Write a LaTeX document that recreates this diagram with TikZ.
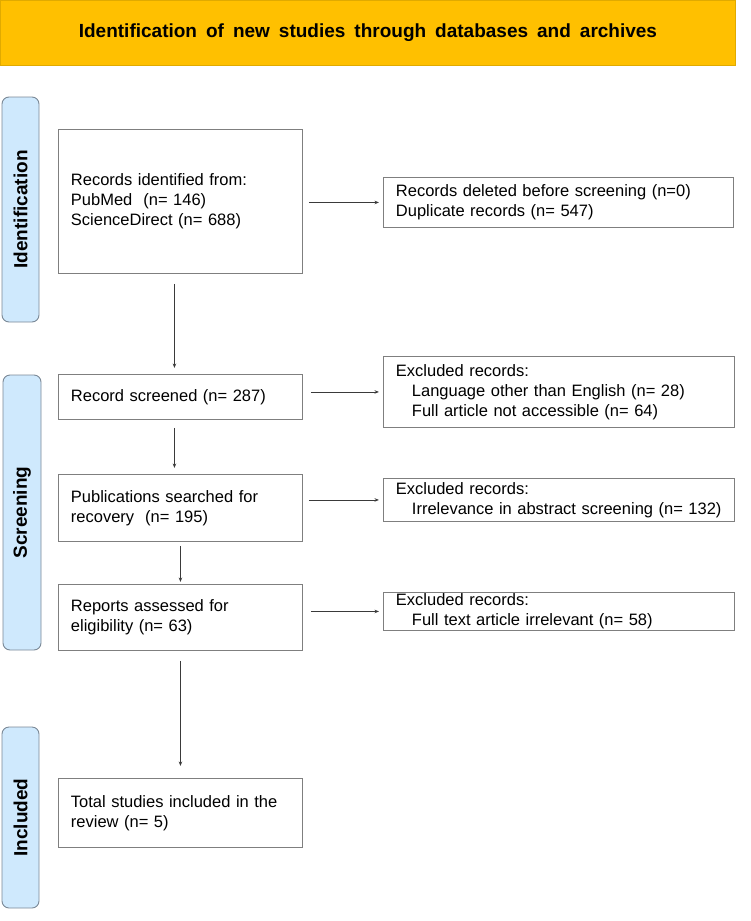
\documentclass[tikz,border=0pt]{standalone}
\usepackage{fontspec}
\setmainfont{Liberation Sans}
\usetikzlibrary{arrows.meta}
\definecolor{hdrfill}{HTML}{FFC000}
\definecolor{hdrline}{HTML}{E0AA00}
\definecolor{tabfill}{HTML}{CFE9FD}
\definecolor{tabline}{HTML}{7A8896}
\definecolor{boxline}{HTML}{7F7F7F}
\definecolor{arrline}{HTML}{3A3A3A}
\begin{document}
\begin{tikzpicture}[x=1pt,y=-1pt,
  box/.style={draw=boxline, line width=0.9pt, anchor=north west, inner xsep=12.5pt, inner ysep=0pt,
    align=left, font=\fontsize{16.5}{20}\selectfont},
  tabbox/.style={draw=tabline, fill=tabfill, line width=0.9pt, rounded corners=7pt},
  tablabel/.style={rotate=90, font=\fontsize{19}{22}\selectfont\bfseries},
  flow/.style={draw=arrline, line width=0.8pt, -{Stealth[length=4.5pt,width=3.5pt]}}
]
\useasboundingbox (0,0) rectangle (750,921);

% header
\node[draw=hdrline, fill=hdrfill, line width=0.9pt, anchor=north west, minimum width=735pt, minimum height=65pt, inner sep=0pt,
  font=\fontsize{19}{22}\selectfont\bfseries] (hdr) at (0,0) {\raisebox{-2pt}{\spaceskip=9pt Identification of new studies through databases and archives}};

% side tabs
\draw[tabbox] (2,97) rectangle (39,322);
\node[tablabel] (tid) at (20.5,209.5) {Identification};
\draw[tabbox] (3,375) rectangle (41,650);
\node[tablabel] (tsc) at (22,512.5) {Screening};
\draw[tabbox] (2,727) rectangle (39,908);
\node[tablabel] (tin) at (20.5,817.5) {Included};

% left boxes
\node[box, minimum width=244pt, minimum height=144pt, text width=219pt] (b1) at (58,129)
  {Records identified from:\\PubMed~ (n= 146)\\ScienceDirect (n= 688)};
\node[box, minimum width=244pt, minimum height=45pt, text width=219pt] (b2) at (58,374)
  {Record screened (n= 287)};
\node[box, minimum width=244pt, minimum height=67pt, text width=219pt] (b3) at (58,474)
  {Publications searched for\\recovery~ (n= 195)};
\node[box, minimum width=244pt, minimum height=66pt, text width=219pt] (b4) at (58,584)
  {Reports assessed for\\eligibility (n= 63)};
\node[box, minimum width=244pt, minimum height=69pt, text width=219pt] (b5) at (58,778)
  {Total studies included in the\\review (n= 5)};

% right boxes
\node[box, minimum width=350pt, minimum height=50pt, text width=325pt] (r1) at (383,177)
  {Records deleted before screening (n=0)\\Duplicate records (n= 547)};
\node[box, minimum width=351pt, minimum height=71pt, text width=326pt] (r2) at (383,356)
  {Excluded records:\\\hspace*{16pt}Language other than English (n= 28)\\\hspace*{16pt}Full article not accessible (n= 64)};
\node[box, minimum width=351pt, minimum height=43pt, text width=326pt] (r3) at (383,478)
  {Excluded records:\\\hspace*{16pt}Irrelevance in abstract screening (n= 132)};
\node[box, minimum width=351pt, minimum height=38pt, text width=326pt] (r4) at (383,592)
  {Excluded records:\\\hspace*{16pt}Full text article irrelevant (n= 58)};

% vertical arrows
\draw[flow, shorten <=10pt, shorten >=6pt] ([xshift=-6pt]b1.south) -- ([xshift=-6pt]b2.north);
\draw[flow, shorten <=8pt, shorten >=6pt] ([xshift=-6pt]b2.south) -- ([xshift=-6pt]b3.north);
\draw[flow, shorten <=4pt, shorten >=2pt] (b3.south) -- (b4.north);
\draw[flow, shorten <=10pt, shorten >=12pt] (b4.south) -- (b5.north);

% horizontal arrows
\draw[flow, shorten <=6pt, shorten >=4pt] (b1.east |- r1.west) -- (r1.west);
\draw[flow, shorten <=8pt, shorten >=4pt] (b2.east |- r2.west) -- (r2.west);
\draw[flow, shorten <=6pt, shorten >=4pt] (b3.east |- r3.west) -- (r3.west);
\draw[flow, shorten <=8pt, shorten >=4pt] (b4.east |- r4.west) -- (r4.west);
\end{tikzpicture}
\end{document}
